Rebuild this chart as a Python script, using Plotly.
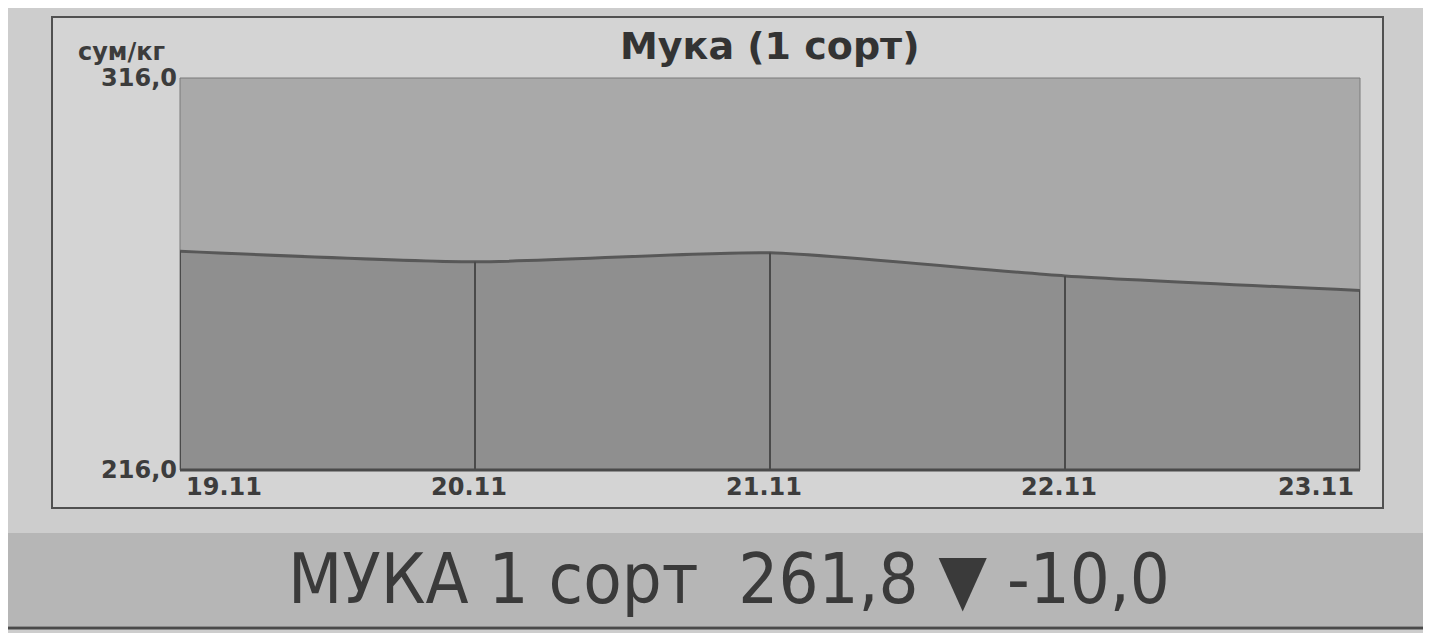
import plotly.graph_objects as go

# ---- data ----
dates = ["19.11", "20.11", "21.11", "22.11", "23.11"]
prices = [271.8, 269.1, 271.4, 265.5, 261.8]
y_min, y_max = 216.0, 316.0
y_tick_labels = ["216,0", "316,0"]
unit_label = "сум/кг"
title_text = "Мука (1 сорт)"
ticker_name = "МУКА 1 сорт"
ticker_value = "261,8"
ticker_change = "-10,0"

OFF = 8  # page body margin
W, H = 1431 - OFF, 633 - OFF
L, R, T, B = 180 - OFF, 1360 - OFF, 78 - OFF, 470 - OFF  # plot area in figure pixels


def px_x(p):
    return (p - OFF - L) / (R - L)


def px_y(p):
    return (B - (p - OFF)) / (B - T)


xs = list(range(len(dates)))

fig = go.Figure()

# filled area under the price line
fig.add_trace(go.Scatter(
    x=xs, y=prices, mode="lines",
    line=dict(color="#585858", width=3, shape="spline", smoothing=0.6),
    fill="tozeroy", fillcolor="#8f8f8f", hoverinfo="skip", showlegend=False,
))

# vertical dividers from bottom to the line at each date
vx, vy = [], []
for x, p in zip(xs, prices):
    vx += [x, x, None]
    vy += [y_min, p, None]
fig.add_trace(go.Scatter(
    x=vx, y=vy, mode="lines", line=dict(color="#4a4a4a", width=2),
    hoverinfo="skip", showlegend=False,
))

shapes = [
    # outer frame
    dict(type="rect", xref="paper", yref="paper",
         x0=px_x(52), x1=px_x(1383), y0=px_y(508), y1=px_y(17),
         line=dict(color="#505050", width=2), fillcolor="#d4d4d4", layer="below"),
    # plot background
    dict(type="rect", xref="paper", yref="paper",
         x0=0, x1=1, y0=0, y1=1,
         line=dict(color="#7a7a7a", width=1), fillcolor="#a9a9a9", layer="below"),
    # bottom band
    dict(type="rect", xref="paper", yref="paper",
         x0=px_x(0), x1=px_x(1431), y0=px_y(626), y1=px_y(533),
         line=dict(width=0), fillcolor="#b6b6b6", layer="below"),
    dict(type="line", xref="paper", yref="paper",
         x0=px_x(0), x1=px_x(1431), y0=px_y(628), y1=px_y(628),
         line=dict(color="#4a4a4a", width=3)),
    # bottom edge of plot
    dict(type="line", xref="paper", yref="paper",
         x0=0, x1=1, y0=0, y1=0, line=dict(color="#4a4a4a", width=3)),
]

lab_font = dict(family="DejaVu Sans", size=24, color="#3c3c3c")

annotations = [
    dict(text="<b>" + title_text + "</b>", xref="paper", yref="paper",
         x=0.5, y=px_y(46), xanchor="center", yanchor="middle", showarrow=False,
         font=dict(family="DejaVu Sans", size=38, color="#333333")),
    dict(text="<b>" + unit_label + "</b>", xref="paper", yref="paper",
         x=px_x(76), y=px_y(52), xanchor="left", yanchor="middle", showarrow=False,
         font=lab_font),
    dict(text=ticker_name + "  " + ticker_value + " ▼ " + ticker_change,
         xref="paper", yref="paper", x=px_x(729), y=px_y(579),
         xanchor="center", yanchor="middle", showarrow=False,
         font=dict(family="Liberation Sans Narrow, DejaVu Sans Condensed, sans-serif",
                   size=70, color="#3a3a3a")),
]

for i, d in enumerate(dates):
    anchor = "left" if i == 0 else ("right" if i == len(dates) - 1 else "center")
    shift = 4 if i == 0 else (-4 if i == len(dates) - 1 else -6)
    annotations.append(dict(
        text="<b>" + d + "</b>", x=xs[i], xref="x", yref="paper", y=px_y(487),
        xanchor=anchor, yanchor="middle", xshift=shift, showarrow=False, font=lab_font,
    ))

fig.update_layout(
    width=W, height=H,
    margin=dict(l=L, r=W - R, t=T, b=H - B, pad=0),
    paper_bgcolor="#cdcdcd",
    plot_bgcolor="rgba(0,0,0,0)",
    shapes=shapes,
    annotations=annotations,
    showlegend=False,
    xaxis=dict(range=[0, len(dates) - 1], showgrid=False, zeroline=False,
               showticklabels=False, ticks="", fixedrange=True),
    yaxis=dict(range=[y_min, y_max], showgrid=False, zeroline=False,
               tickvals=[y_min, y_max],
               ticktext=["<b>" + t + "</b>" for t in y_tick_labels],
               tickfont=lab_font, ticks="", ticklabelstandoff=2, fixedrange=True),
)

fig.write_html("out.html")
